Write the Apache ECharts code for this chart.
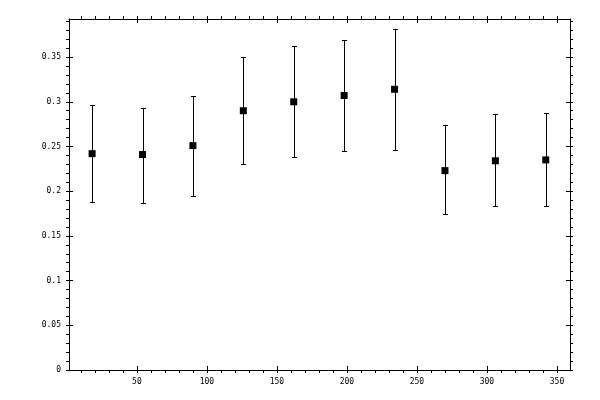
<!DOCTYPE html>
<html>
<head>
<meta charset="utf-8">
<script src="https://cdn.jsdelivr.net/npm/echarts@6/dist/echarts.min.js"></script>
<style>html,body{margin:0;padding:0;background:#fff}#c{width:600px;height:400px}</style>
</head>
<body>
<div id="c"></div>
<script>
const xs = [18, 54, 90, 126, 162, 198, 234, 270, 306, 342];
const values = [0.242, 0.241, 0.251, 0.290, 0.300, 0.307, 0.314, 0.223, 0.234, 0.235];
const highs = [0.296, 0.293, 0.306, 0.350, 0.362, 0.369, 0.381, 0.274, 0.286, 0.288];
const lows = [0.188, 0.187, 0.195, 0.230, 0.238, 0.245, 0.246, 0.174, 0.183, 0.183];

const xMajorTicks = [50, 100, 150, 200, 250, 300, 350];
const xMinorTicks = [10, 20, 30, 40, 50, 60, 70, 80, 90, 100, 110, 120, 130, 140, 150, 160, 170, 180, 190, 200, 210, 220, 230, 240, 250, 260, 270, 280, 290, 300, 310, 320, 330, 340, 350];
const yMajorTicks = [0, 0.05, 0.1, 0.15, 0.2, 0.25, 0.3, 0.35];
const yMinorTicks = [0, 0.01, 0.02, 0.03, 0.04, 0.05, 0.06, 0.07, 0.08, 0.09, 0.1, 0.11, 0.12, 0.13, 0.14, 0.15, 0.16, 0.17, 0.18, 0.19, 0.2, 0.21, 0.22, 0.23, 0.24, 0.25, 0.26, 0.27, 0.28, 0.29, 0.3, 0.31, 0.32, 0.33, 0.34, 0.35, 0.36, 0.37, 0.38, 0.39];

const X_MIN = 1.5, X_MAX = 359.3, Y_MIN = 0, Y_MAX = 0.3926;
const FONT = 'DejaVu Sans Mono';

function makeAxis(kind, position, outer, labelTicks, majorTicks, minorTicks) {
  const isX = kind === 'x';
  return {
    type: 'value',
    position: position,
    min: isX ? X_MIN : Y_MIN,
    max: isX ? X_MAX : Y_MAX,
    splitLine: { show: false },
    axisLine: { show: outer, onZero: false, lineStyle: { color: '#000', width: 1 } },
    axisTick: outer
      ? { show: true, inside: false, length: 3, customValues: minorTicks, lineStyle: { color: '#000', width: 1 } }
      : { show: true, inside: true, length: 4, customValues: majorTicks, lineStyle: { color: '#000', width: 1 } },
    axisLabel: labelTicks
      ? { show: true, customValues: labelTicks, margin: 8, color: '#000', fontFamily: FONT, fontSize: 8 }
      : { show: false },
    minorTick: { show: false }
  };
}

const chart = echarts.init(document.getElementById('c'), null, { renderer: 'canvas' });
chart.setOption({
  animation: false,
  backgroundColor: '#fff',
  grid: { left: 69, right: 30, top: 19, bottom: 30, containLabel: false },
  xAxis: [
    makeAxis('x', 'bottom', true, xMajorTicks, xMajorTicks, xMinorTicks),
    makeAxis('x', 'bottom', false, null, xMajorTicks, xMinorTicks),
    makeAxis('x', 'top', true, null, xMajorTicks, xMinorTicks),
    makeAxis('x', 'top', false, null, xMajorTicks, xMinorTicks)
  ],
  yAxis: [
    makeAxis('y', 'left', true, yMajorTicks, yMajorTicks, yMinorTicks),
    makeAxis('y', 'left', false, null, yMajorTicks, yMinorTicks),
    makeAxis('y', 'right', true, null, yMajorTicks, yMinorTicks),
    makeAxis('y', 'right', false, null, yMajorTicks, yMinorTicks)
  ],
  series: [
    {
      type: 'custom',
      xAxisIndex: 0,
      yAxisIndex: 0,
      data: xs.map((x, i) => [x, lows[i], highs[i]]),
      renderItem: function (params, api) {
        const lo = api.coord([api.value(0), api.value(1)]);
        const hi = api.coord([api.value(0), api.value(2)]);
        const cx = Math.round(lo[0]) + 0.5;
        const y1 = Math.round(lo[1]) + 0.5, y2 = Math.round(hi[1]) + 0.5;
        const w = 2.5;
        const st = { stroke: '#000', lineWidth: 1 };
        return {
          type: 'group',
          children: [
            { type: 'line', shape: { x1: cx, y1: y1, x2: cx, y2: y2 }, style: st },
            { type: 'line', shape: { x1: cx - w, y1: y1, x2: cx + w, y2: y1 }, style: st },
            { type: 'line', shape: { x1: cx - w, y1: y2, x2: cx + w, y2: y2 }, style: st }
          ]
        };
      },
      z: 2
    },
    {
      type: 'scatter',
      xAxisIndex: 0,
      yAxisIndex: 0,
      symbol: 'rect',
      symbolSize: 7,
      itemStyle: { color: '#000', opacity: 1 },
      emphasis: { disabled: true },
      data: xs.map((x, i) => [x, values[i]]),
      z: 3
    }
  ]
});
</script>
</body>
</html>
